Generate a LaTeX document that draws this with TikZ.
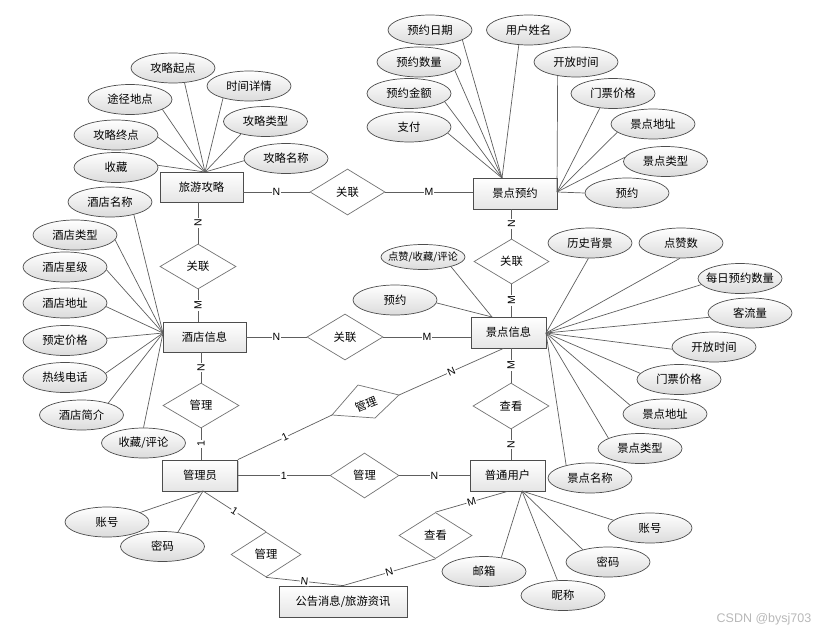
\documentclass[tikz,border=0pt]{standalone}
\usepackage{fontspec}
\setmainfont{Noto Sans CJK SC}
\newfontfamily\latinf{Liberation Sans}
\usetikzlibrary{shapes.geometric,shadows,calc}
\definecolor{lnc}{HTML}{5E5E5E}
\definecolor{bdc}{HTML}{4D4D4D}
\tikzset{
  cjk/.style={font=\fontsize{11.3}{13}\selectfont},
  ent/.style={rectangle, draw=bdc, line width=0.8pt, top color=white, bottom color=black!10,
    minimum width=83pt, minimum height=30pt, inner sep=0pt, cjk,
    drop shadow={shadow xshift=1.2pt, shadow yshift=-1.2pt, opacity=0.35, fill=black!60}},
  attr/.style={ellipse, draw=bdc, line width=0.7pt, top color=white, bottom color=black!14,
    minimum width=84pt, minimum height=30pt, inner sep=0pt, cjk,
    execute at begin node={\hbox to 0pt\bgroup\hss}, execute at end node={\hss\egroup}},
  rel/.style={diamond, draw=black!55, line width=0.7pt, fill=white,
    minimum width=76pt, minimum height=46pt, inner sep=0pt, cjk},
  ln/.style={draw=lnc, line width=0.7pt},
  card/.style={font=\latinf\fontsize{10.5}{12}\selectfont, fill=white, inner sep=0.8pt},
  vcard/.style={card, rotate=90},
}
\begin{document}
\begin{tikzpicture}[x=1pt,y=-1pt]
\useasboundingbox (0,0) rectangle (834,634);

% ---------- entities ----------
\node[ent] (gl) at (201.5,187) {旅游攻略};
\node[ent, minimum width=84pt, minimum height=31pt] (jy) at (515,193.5) {景点预约};
\node[ent] (hi) at (204.5,337) {酒店信息};
\node[ent, minimum width=75pt, minimum height=31pt] (si) at (508.5,332.5) {景点信息};
\node[ent, minimum width=75pt, minimum height=31pt] (adm) at (200,475.5) {管理员};
\node[ent, minimum width=75pt, minimum height=31pt] (usr) at (507.5,475.5) {普通用户};
\node[ent, minimum width=128pt, minimum height=31pt] (ann) at (343,601.5) {公告消息/旅游资讯};

% ---------- relationships ----------
\node[rel, minimum width=75pt] (r1) at (347.5,192) {关联};
\node[rel, minimum height=45pt] (r2) at (198,266.5) {关联};
\node[rel, minimum width=75pt, minimum height=45pt] (r3) at (511.5,261.5) {关联};
\node[rel] (r4) at (345,337) {关联};
\node[rel, minimum height=45pt] (r5) at (201,405.5) {管理};
\node[rel, minimum width=69pt, minimum height=45pt] (r7) at (364.5,475.5) {管理};
\node[rel] (r8) at (511,406) {查看};
\node[rel, minimum width=70pt, minimum height=45pt] (r9) at (266,554.5) {管理};
\node[rel, minimum width=73pt] (r10) at (435.5,535.5) {查看};
\coordinate (r6T) at (358,385);
\coordinate (r6R) at (399,395);
\coordinate (r6B) at (375,418);
\coordinate (r6L) at (332,415);
\filldraw[draw=black!55, fill=white, line width=0.7pt] (r6T) -- (r6R) -- (r6B) -- (r6L) -- cycle;
\node[cjk, rotate=22] (r6) at (366,404) {管理};

% ---------- attributes ----------
\node[attr] (a1) at (173,68) {攻略起点};
\node[attr] (a2) at (249,86) {时间详情};
\node[attr] (a3) at (130,99.5) {途径地点};
\node[attr] (a4) at (265.5,121.5) {攻略类型};
\node[attr] (a5) at (116,135) {攻略终点};
\node[attr] (a6) at (286,158.5) {攻略名称};
\node[attr] (a7) at (116,167.5) {收藏};

\node[attr] (b1) at (430,30) {预约日期};
\node[attr] (b2) at (528.5,30) {用户姓名};
\node[attr] (b3) at (419,62) {预约数量};
\node[attr] (b4) at (409,93.5) {预约金额};
\node[attr] (b5) at (409,127) {支付};
\node[attr] (b6) at (576,62) {开放时间};
\node[attr] (b7) at (613,93.5) {门票价格};
\node[attr] (b8) at (653,124) {景点地址};
\node[attr] (b9) at (665.5,161.5) {景点类型};
\node[attr] (b10) at (627,193) {预约};

\node[attr] (c1) at (110,202) {酒店名称};
\node[attr] (c2) at (75,235) {酒店类型};
\node[attr] (c3) at (65,267) {酒店星级};
\node[attr] (c4) at (65,303) {酒店地址};
\node[attr] (c5) at (65,340.5) {预定价格};
\node[attr] (c6) at (65,377.5) {热线电话};
\node[attr] (c7) at (81.5,415) {酒店简介};
\node[attr] (c8) at (143.5,443) {收藏/评论};

\node[attr, minimum height=25pt, font=\fontsize{10.3}{12}\selectfont] (d1) at (423,257) {点赞/收藏/评论};
\node[attr] (d2) at (395,300) {预约};
\node[attr] (d3) at (590,243) {历史背景};
\node[attr] (d4) at (681,243) {点赞数};
\node[attr] (d5) at (740,278.5) {每日预约数量};
\node[attr] (d6) at (750,313) {客流量};
\node[attr] (d7) at (714,347) {开放时间};
\node[attr] (d8) at (679,379.5) {门票价格};
\node[attr] (d9) at (665,414) {景点地址};
\node[attr] (d10) at (640,448.5) {景点类型};
\node[attr] (d11) at (590,478) {景点名称};

\node[attr] (e1) at (650,528) {账号};
\node[attr] (e2) at (608,562) {密码};
\node[attr] (e3) at (484,571.5) {邮箱};
\node[attr] (e4) at (563,595.5) {昵称};

\node[attr] (f1) at (107,522) {账号};
\node[attr] (f2) at (162.5,546.5) {密码};

% ---------- convergence points ----------
\coordinate (glT) at (205,172);
\coordinate (jyT) at (502,178);
\coordinate (jyR) at (557,192);
\coordinate (hiL) at (163,333);
\coordinate (siL) at (492,317);
\coordinate (siR) at (546,333);
\coordinate (usrB) at (522,491);
\coordinate (admB) at (203,491);
\coordinate (siS) at ($(si.south)+(-5,0)$);

% ---------- attribute lines ----------
\draw[ln] (glT) -- (a1.-52);
\draw[ln] (glT) -- (a2.-155);
\draw[ln] (glT) -- (a3.-17);
\draw[ln] (glT) -- (a4.-153);
\draw[ln] (glT) -- (a5.-3);
\draw[ln] (glT) -- (a6.-177);
\draw[ln] (glT) -- (a7.3);

\draw[ln] (jyT) -- (b1.-17.5);
\draw[ln] (jyT) -- (b2.-123);
\draw[ln] (jyT) -- (b3.-13);
\draw[ln] (jyT) -- (b4.-13);
\draw[ln] (jyT) -- (b5.-9);
\draw[ln] (jyR) -- (b6.-143);
\draw[ln] (jyR) -- (b7.-132);
\draw[ln] (jyR) -- (b8.-167);
\draw[ln] (jyR) -- (b9.174);
\draw[ln] (jyR) -- (b10.180);

\draw[ln] (hiL) -- (c1.-28);
\draw[ln] (hiL) -- (c2.-7);
\draw[ln] (hiL) -- (c3.-4);
\draw[ln] (hiL) -- (c4.-5);
\draw[ln] (hiL) -- (c5.3);
\draw[ln] (hiL) -- (c6.6);
\draw[ln] (hiL) -- (c7.24);
\draw[ln] (hiL) -- (c8.90);

\draw[ln] (siL) -- (d1.-19);
\draw[ln] (siL) -- (d2.-4);
\draw[ln] (siR) -- (d3.-96);
\draw[ln] (siR) -- (d4.-94);
\draw[ln] (siR) -- (d5.-171);
\draw[ln] (siR) -- (d6.-174);
\draw[ln] (siR) -- (d7.-177);
\draw[ln] (siR) -- (d8.171.5);
\draw[ln] (siR) -- (d9.166);
\draw[ln] (siR) -- (d10.162.5);
\draw[ln] (siR) -- (d11.152);

\draw[ln] (usrB) -- (e1.168.5);
\draw[ln] (usrB) -- (e2.154);
\draw[ln] (usrB) -- (e3.39.5);
\draw[ln] (usrB) -- (e4.110);

\draw[ln] (admB) -- (f1.16);
\draw[ln] (admB) -- (f2.43);

% ---------- relationship lines ----------
\draw[ln] (gl.east |- r1) -- node[card]{N} (r1.west);
\draw[ln] (r1.east) -- node[card]{M} (jy.west |- r1);
\draw[ln] (r2.north |- gl.south) -- node[vcard]{N} (r2.north);
\draw[ln] (r2.south) -- node[vcard]{M} (r2.south |- hi.north);
\draw[ln] (r3.north |- jy.south) -- node[vcard]{N} (r3.north);
\draw[ln] (r3.south) -- node[vcard]{M} (r3.south |- si.north);
\draw[ln] (hi.east) -- node[card]{N} (r4.west);
\draw[ln] (r4.east) -- node[card]{M} (si.west |- r4);
\draw[ln] (r5.north |- hi.south) -- node[vcard]{N} (r5.north);
\draw[ln] (r5.south) -- node[vcard]{1} (r5.south |- adm.north);
\draw[ln] (r8.north |- si.south) -- node[vcard]{M} (r8.north);
\draw[ln] (r8.south) -- node[vcard]{N} (r8.south |- usr.north);
\draw[ln] (adm.east) -- node[card]{1} (r7.west);
\draw[ln] (r7.east) -- node[card]{N} (usr.west);
\draw[ln] (adm.north east) -- node[card, sloped]{1} (r6L);
\draw[ln] (r6R) -- node[card, sloped]{N} (siS);
\draw[ln] (admB) -- node[card, sloped]{1} (r9.north);
\draw[ln] (r9.south) -- node[card, sloped]{N} (ann.north);
\draw[ln] (usr.south) -- node[card, sloped]{M} (r10.north);
\draw[ln] (r10.south) -- node[card, sloped]{N} (ann.north);

% ---------- watermark ----------
\node[font=\latinf\fontsize{12.5}{14}\selectfont, text=black!28] (wm) at (764,619) {CSDN @bysj703};
\end{tikzpicture}
\end{document}
